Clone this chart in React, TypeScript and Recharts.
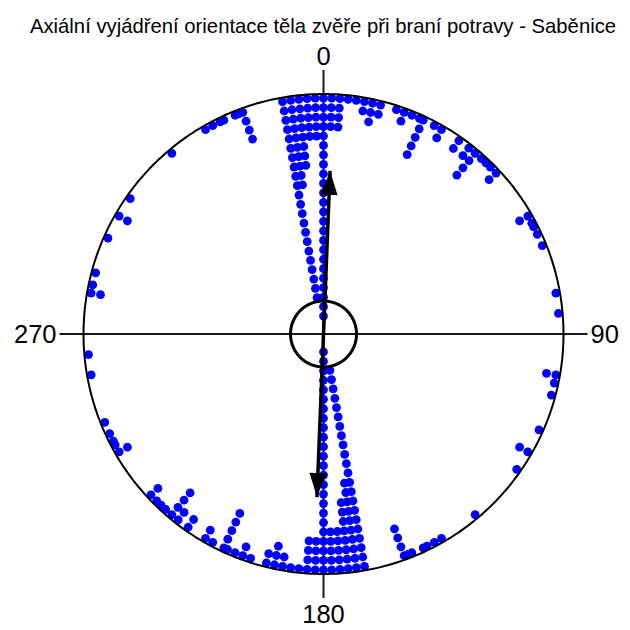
import React from 'react';
import { ScatterChart, Scatter, XAxis, YAxis, ReferenceLine } from 'recharts';

const TITLE = 'Axiální vyjádření orientace těla zvěře při braní potravy - Saběnice';

// axial data: bin centre angle (deg, 0..180) and number of stacked dots; each plotted at a and a+180
const BIN_ANGLES = [0, 2, 4, 6, 8, 10, 12, 14, 18, 20, 22, 24, 25, 28, 30, 35, 38, 40, 42, 43.5, 45, 47, 60, 62, 63, 65, 68, 80, 85, 100, 102, 105, 114, 120, 125, 140, 150, 152, 154, 155, 158, 159, 160, 170, 172, 174, 176, 178];
const BIN_COUNTS = [24, 4, 4, 1, 1, 2, 3, 2, 1, 2, 1, 1, 5, 1, 2, 2, 2, 4, 1, 1, 1, 2, 2, 1, 1, 1, 1, 1, 1, 2, 1, 1, 1, 2, 1, 1, 1, 1, 1, 1, 1, 1, 4, 22, 10, 8, 5, 5];

const AXIS_LABELS = ['0', '90', '180', '270'];
const AXIS_LABEL_ANGLES = [0, 90, 180, 270];

const MEAN_ANGLE = 2.3;
const MEAN_LENGTH = 0.68;
const CONF_RADIUS = 0.1375;

const OUTER_DOT_R = 0.983;
const DOT_STEP = 0.0395;
const AXIS_EXTENT = 1.1;

const X_DOMAIN: [number, number] = [-323.5 / 240, (630 - 323.5) / 240];
const Y_DOMAIN: [number, number] = [-(630 - 334) / 240, 334 / 240];

const rad = (d: number) => (d * Math.PI) / 180;
const toXY = (deg: number, r: number) => ({ x: r * Math.sin(rad(deg)), y: r * Math.cos(rad(deg)) });

const dots: { x: number; y: number }[] = [];
BIN_ANGLES.forEach((a, i) => {
  for (let k = 0; k < BIN_COUNTS[i]; k++) {
    const r = OUTER_DOT_R - k * DOT_STEP;
    dots.push(toXY(a, r));
    dots.push(toXY(a + 180, r));
  }
});

const ring = (r: number) => Array.from({ length: 361 }, (_, i) => toXY(i, r));
const outerRing = ring(1);
const confRing = ring(CONF_RADIUS);

const arrowUp = [
  { ...toXY(0, 0), head: false, ang: MEAN_ANGLE },
  { ...toXY(MEAN_ANGLE, MEAN_LENGTH), head: true, ang: MEAN_ANGLE },
];
const arrowDown = [
  { ...toXY(0, 0), head: false, ang: MEAN_ANGLE + 180 },
  { ...toXY(MEAN_ANGLE + 180, MEAN_LENGTH), head: true, ang: MEAN_ANGLE + 180 },
];

const labelPts = AXIS_LABELS.map((label, i) => ({ ...toXY(AXIS_LABEL_ANGLES[i], AXIS_EXTENT), label, ang: AXIS_LABEL_ANGLES[i] }));

const Dot = (p: any) => <circle cx={p.cx} cy={p.cy} r={4.4} fill="#0000FF" />;
const Empty = () => <g />;

const Head = (p: any) => {
  if (!p.payload || !p.payload.head) return <g />;
  const a = rad(p.payload.ang);
  const ux = Math.sin(a);
  const uy = -Math.cos(a);
  const len = 24;
  const hw = 8.5;
  const bx = p.cx - ux * len;
  const by = p.cy - uy * len;
  const pts = `${p.cx},${p.cy} ${bx - uy * hw},${by + ux * hw} ${bx + uy * hw},${by - ux * hw}`;
  return <polygon points={pts} fill="#000" />;
};

const AxisLabel = (p: any) => {
  const d = p.payload;
  let x = p.cx;
  let y = p.cy;
  let anchor: 'middle' | 'start' | 'end' = 'middle';
  if (d.ang === 0) y -= 5;
  if (d.ang === 180) y += 25;
  if (d.ang === 90) { x += 3; y += 9; anchor = 'start'; }
  if (d.ang === 270) { x -= 3; y += 9; anchor = 'end'; }
  return (
    <text x={x} y={y} textAnchor={anchor} fontSize={25.5} fontFamily="Liberation Sans, Arial, sans-serif" fill="#000">
      {d.label}
    </text>
  );
};

export default function App() {
  return (
    <div style={{ position: 'absolute', left: 0, top: 0, width: 630, height: 630, background: '#fff' }}>
      <div
        style={{
          position: 'absolute',
          left: 8,
          top: 15,
          width: 630,
          textAlign: 'center',
          fontFamily: 'Liberation Sans, Arial, sans-serif',
          fontSize: 20.3,
          color: '#000',
          whiteSpace: 'nowrap',
          zIndex: 2,
        }}
      >
        {TITLE}
      </div>
      <ScatterChart width={630} height={630} margin={{ top: 0, right: 0, bottom: 0, left: 0 }}>
        <XAxis type="number" dataKey="x" domain={X_DOMAIN} hide allowDataOverflow />
        <YAxis type="number" dataKey="y" domain={Y_DOMAIN} hide allowDataOverflow />
        <Scatter data={dots} shape={Dot} isAnimationActive={false} />
        <Scatter data={outerRing} fill="none" shape={Empty} line={{ stroke: '#000', strokeWidth: 2, fill: 'none' }} isAnimationActive={false} />
        <ReferenceLine segment={[{ x: -AXIS_EXTENT, y: 0 }, { x: AXIS_EXTENT, y: 0 }]} stroke="#1a1a1a" strokeWidth={2} />
        <ReferenceLine segment={[{ x: 0, y: -AXIS_EXTENT }, { x: 0, y: AXIS_EXTENT }]} stroke="#1a1a1a" strokeWidth={2} />
        <Scatter data={confRing} fill="none" shape={Empty} line={{ stroke: '#000', strokeWidth: 3, fill: 'none' }} isAnimationActive={false} />
        <Scatter data={arrowUp} shape={Head} line={{ stroke: '#000', strokeWidth: 3.5 }} isAnimationActive={false} />
        <Scatter data={arrowDown} shape={Head} line={{ stroke: '#000', strokeWidth: 3.5 }} isAnimationActive={false} />
        <Scatter data={labelPts} shape={AxisLabel} isAnimationActive={false} />
      </ScatterChart>
    </div>
  );
}
